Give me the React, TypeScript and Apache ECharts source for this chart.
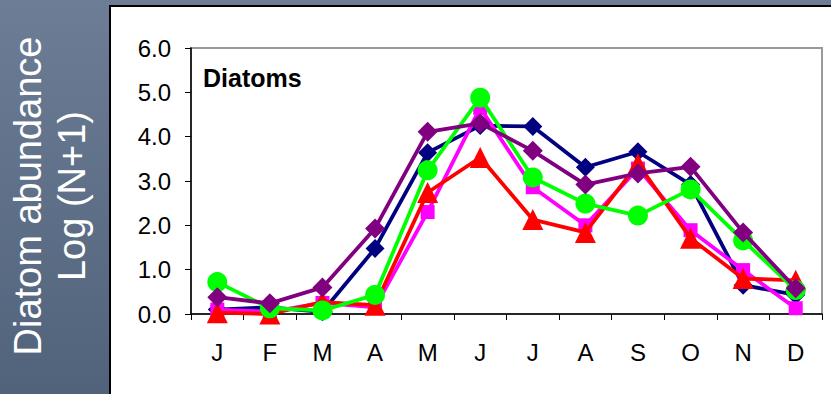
import React, { useEffect, useRef } from "react";
import * as echarts from "echarts";

const months = ["J", "F", "M", "A", "M", "J", "J", "A", "S", "O", "N", "D"];
const navySeries = [0.1, 0.15, 0.05, 1.48, 3.64, 4.25, 4.23, 3.31, 3.66, 2.92, 0.65, 0.43];
const magentaSeries = [0.1, 0.05, 0.25, 0.15, 2.3, 4.65, 2.86, 2.0, 3.28, 1.89, 0.99, 0.13];
const redSeries = [0.03, 0.0, 0.27, 0.2, 2.74, 3.53, 2.13, 1.84, 3.39, 1.71, 0.8, 0.76];
const greenSeries = [0.72, 0.13, 0.08, 0.43, 3.24, 4.88, 3.08, 2.49, 2.22, 2.81, 1.66, 0.54];
const purpleSeries = [0.38, 0.24, 0.6, 1.93, 4.11, 4.3, 3.68, 2.92, 3.17, 3.32, 1.84, 0.58];

const FONT = "Arial, 'Liberation Sans', Helvetica, sans-serif";

export default function App() {
  const ref = useRef<HTMLDivElement>(null);
  useEffect(() => {
    if (!ref.current) return;
    const chart = echarts.init(ref.current, null, { renderer: "svg" });
    const mk = (name: string, data: number[], color: string, symbol: string, size: number, z: number) => ({
      name,
      type: "line",
      data,
      symbol,
      symbolSize: size,
      z,
      lineStyle: { color, width: 3.8 },
      itemStyle: { color, borderWidth: 0 },
      emphasis: { disabled: true },
    });
    chart.setOption({
      animation: false,
      backgroundColor: {
        type: "linear",
        x: 0,
        y: 0,
        x2: 0,
        y2: 1,
        colorStops: [
          { offset: 0, color: "#6d7d96" },
          { offset: 1, color: "#51627b" },
        ],
      },
      graphic: [
        {
          type: "rect",
          z: -10,
          shape: { x: 110, y: 6, width: 730, height: 400 },
          style: { fill: "#ffffff", stroke: "#000000", lineWidth: 2 },
        },
        {
          type: "text",
          x: 50,
          y: 196,
          rotation: Math.PI / 2,
          style: {
            text: "Diatom abundance\nLog (N+1)",
            fill: "#ffffff",
            font: `38px ${FONT}`,
            lineHeight: 44,
            align: "center",
            verticalAlign: "middle",
          },
        },
        {
          type: "text",
          x: 203,
          y: 78,
          style: {
            text: "Diatoms",
            fill: "#000000",
            font: `bold 25px ${FONT}`,
            align: "left",
            verticalAlign: "middle",
          },
        },
      ],
      grid: {
        left: 191,
        right: 9,
        top: 48,
        bottom: 80,
        show: true,
        backgroundColor: "#ffffff",
        borderColor: "#999999",
        borderWidth: 2,
      },
      xAxis: {
        type: "category",
        data: months,
        boundaryGap: true,
        axisLine: { lineStyle: { color: "#000000", width: 1.5 } },
        axisTick: { show: true, length: 6, lineStyle: { color: "#000000", width: 1 } },
        axisLabel: { color: "#000000", fontSize: 24, fontFamily: FONT, margin: 26 },
        splitLine: { show: false },
      },
      yAxis: {
        type: "value",
        min: 0,
        max: 6,
        interval: 1,
        axisLine: { show: true, lineStyle: { color: "#000000", width: 1.5 } },
        axisTick: { show: true, length: 6, lineStyle: { color: "#000000", width: 1 } },
        axisLabel: {
          color: "#000000",
          fontSize: 24,
          fontFamily: FONT,
          margin: 20,
          formatter: (v: number) => v.toFixed(1),
        },
        splitLine: { show: false },
      },
      series: [
        mk("Navy", navySeries, "#000080", "diamond", 19, 2),
        mk("Magenta", magentaSeries, "#ff00ff", "rect", 14, 3),
        mk("Red", redSeries, "#ff0000", "triangle", 21, 4),
        mk("Green", greenSeries, "#00ff00", "circle", 20, 5),
        mk("Purple", purpleSeries, "#800080", "diamond", 20, 6),
      ],
    });
    return () => chart.dispose();
  }, []);
  return (
    <div
      ref={ref}
      style={{ position: "fixed", left: 0, top: 0, width: 831, height: 394 }}
    />
  );
}
